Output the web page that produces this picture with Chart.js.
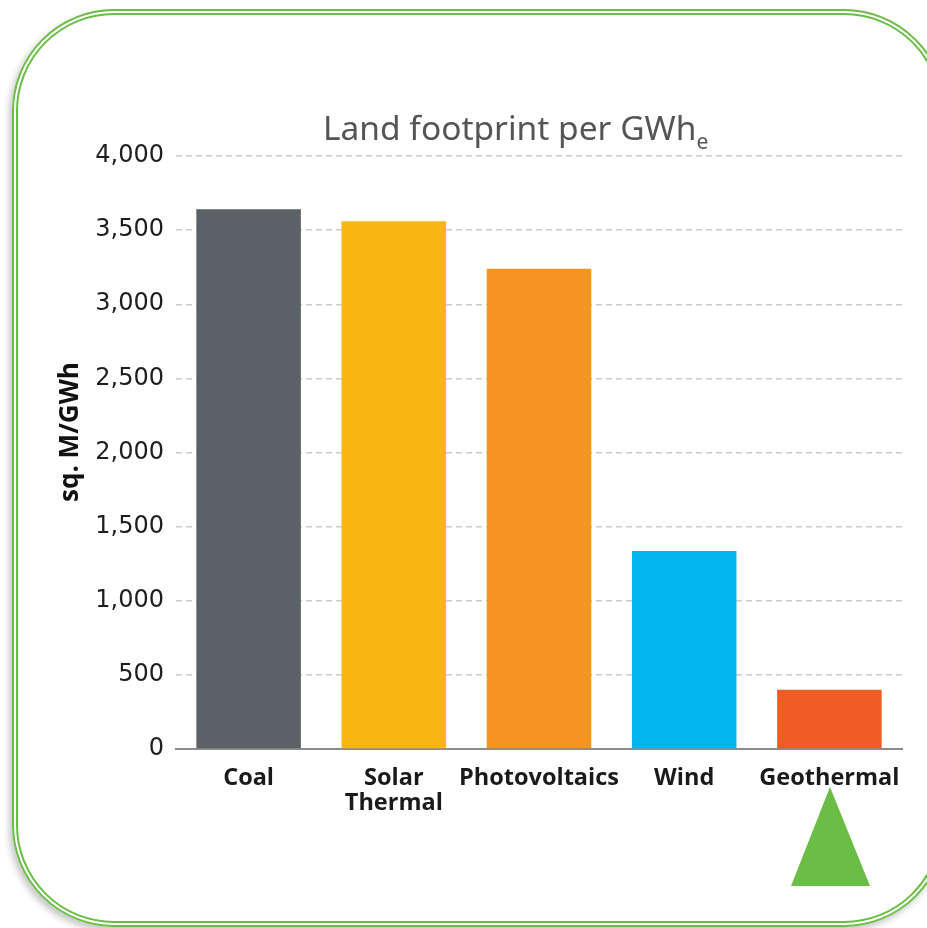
<!DOCTYPE html>
<html>
<head>
<meta charset="utf-8">
<title>Land footprint per GWhe</title>
<script src="https://cdn.jsdelivr.net/npm/chart.js@4.4.1/dist/chart.umd.min.js"></script>
<style>
  html, body { margin: 0; padding: 0; background: #fff; overflow: hidden; }
  #wrap { position: relative; width: 927px; height: 928px; overflow: hidden; }
  #frame {
    position: absolute; left: 12px; top: 9px; width: 934px; height: 918px;
    box-sizing: border-box; border: 6px double #6abd45; border-radius: 102px;
    box-shadow: -3px 4px 6px rgba(0,0,0,0.22);
  }
  #title {
    position: absolute; left: 323px; top: 111px; margin: 0;
    font-family: "Noto Sans", sans-serif; font-size: 33.5px; font-weight: 400;
    color: #555; line-height: 1; white-space: nowrap;
  }
  #title sub { font-size: 21px; vertical-align: -9px; }
  /* y axis title, rotated */
  #ytitle {
    position: absolute; left: 68px; top: 432px; margin: 0;
    transform: translate(-50%, -50%) rotate(-90deg);
    font-family: "Open Sans", sans-serif; font-size: 26px; font-weight: bold;
    color: #111; line-height: 1; white-space: nowrap;
  }
  #chart { position: absolute; left: 0; top: 0; }
  #marker { position: absolute; left: 0; top: 0; }
</style>
</head>
<body>
<div id="wrap">
  <div id="frame"></div>
  <canvas id="chart" width="927" height="928"></canvas>
  <div id="title">Land footprint per GWh<sub>e</sub></div>
  <div id="ytitle"></div>
  <svg id="marker" width="927" height="928">
    <polygon points="830,787 791,886 870,886" fill="#6abd45"></polygon>
  </svg>
</div>

<script>
// chart data
var categories = [['Coal'], ['Solar', 'Thermal'], ['Photovoltaics'], ['Wind'], ['Geothermal']];
var footprint = [3640, 3560, 3240, 1335, 400];
var barColors = ['#5b6165', '#fbb616', '#f39520', '#00b6ec', '#ef5c24'];
var yAxisLabel = 'sq. M/GWh';
var yMax = 4000;
var yStep = 500;

document.addEventListener('DOMContentLoaded', function() {
  document.getElementById('ytitle').textContent = yAxisLabel;

  var ctx = document.getElementById('chart').getContext('2d');

  var myChart = new Chart(ctx, {
    type: 'bar',
    data: {
      labels: categories,
      datasets: [{
        data: footprint,
        backgroundColor: barColors,
        borderWidth: 0,
        barPercentage: 0.72,
        categoryPercentage: 1
      }]
    },
    options: {
      responsive: false,
      animation: false,
      layout: {
        padding: { left: 44, right: 25, top: 156, bottom: 79 }
      },
      plugins: {
        legend: { display: false },
        tooltip: { enabled: false }
      },
      scales: {
        x: {
          grid: { display: false },
          border: { display: true, color: '#8c8c8c', width: 2 },
          ticks: {
            color: '#1a1a1a',
            padding: 8,
            maxRotation: 0,
            autoSkip: false,
            font: { family: 'Open Sans', size: 23.5, weight: 'bold', lineHeight: 1.1 }
          },
          afterFit: function(scale) { scale.height = 100; }
        },
        y: {
          min: 0,
          max: yMax,
          grid: {
            color: '#cccccc',
            lineWidth: 1.5,
            drawTicks: false
          },
          border: { display: false, dash: [6, 4] },
          ticks: {
            stepSize: yStep,
            padding: 12,
            color: '#1e1e1e',
            font: { family: 'DejaVu Sans', size: 24 },
            callback: function(v) { return v.toLocaleString('en-US'); }
          },
          title: { display: false },
          afterFit: function(scale) { scale.width = 132; }
        }
      }
    }
  });
});
</script>
</body>
</html>
